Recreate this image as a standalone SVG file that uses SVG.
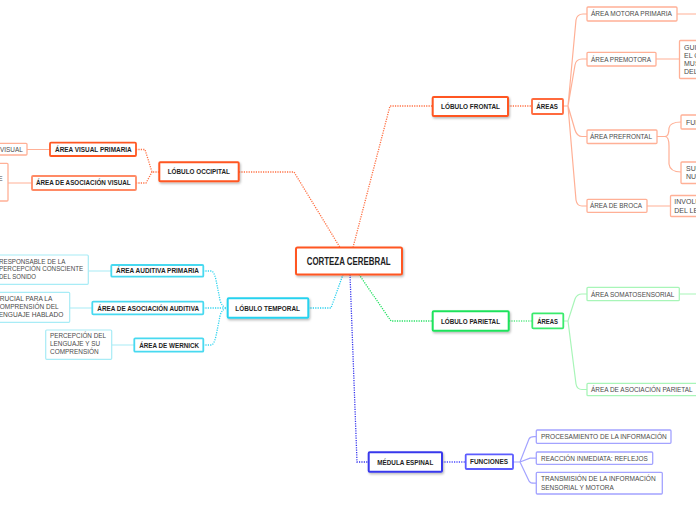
<svg xmlns="http://www.w3.org/2000/svg" width="696" height="520" viewBox="0 0 696 520">
<defs>
<filter id="sh" x="-10%" y="-20%" width="130%" height="160%"><feDropShadow dx="1" dy="1.5" stdDeviation="0.8" flood-color="#000" flood-opacity="0.28"/></filter>
<style>
text{font-family:"Liberation Sans",Arial,sans-serif;font-size:7px;}
.b{font-weight:bold;fill:#1e1e1e;}
.r{fill:#4a4a4a;}
.box{fill:#fff;}
.dot{fill:none;stroke-width:1.3;stroke-dasharray:1.2 1.2;}
.sol{fill:none;stroke-width:1.2;}
.or{stroke:#ff5722;}
.or2{stroke:#ff8a65;}
.or3{stroke:#ffb096;}
.cy{stroke:#27d2ef;}
.cy2{stroke:#48d9f0;}
.cy3{stroke:#a8ecf6;}
.gr{stroke:#1fe35b;}
.gr2{stroke:#3aeb6c;}
.gr3{stroke:#a8f5b8;}
.bl{stroke:#3838ec;}
.bl2{stroke:#5c5cff;}
.bl3{stroke:#a3a3ff;}
</style>
</defs>
<rect width="696" height="520" fill="#fff"/>
<g id="connectors">
<path class="dot" stroke="#ff7043" d="M239,172 L294,172 L340,247.5"/>
<path class="dot" stroke="#ff7043" d="M353,247.5 L390,106 L432,106"/>
<path class="dot" stroke="#2ad0ee" d="M308,308 L331,308 L343,274.5"/>
<path class="dot" stroke="#3535ee" d="M350,274.5 L357,462 L368,462"/>
<path class="dot" stroke="#22e060" d="M359,274.5 L391,321 L432,321"/>
<path class="dot" stroke="#ff7043" d="M508,106 L532,106"/>
<path class="dot" stroke="#5bea85" d="M509,321 L532,321"/>
<path class="dot" stroke="#4a4aff" d="M442,462 L466,462"/>
<path class="dot" stroke="#ff7043" d="M136,149.5 L145,149.5 L152,172 L159,172 M136,183 L146,183 L152,172"/>
<path class="dot" stroke="#30d4ef" d="M203,271 L211,271 Q214,271 216,280 L220,300 Q222,308 228,308 M203,308 L228,308 M203,345 L211,345 Q214,345 216,336 L220,316 Q222,308 228,308"/>
<path class="sol or3" d="M563,106 L568,106 L576,20 Q577,14 583,14 L587,14 M568,106 L575,65 Q576,59 582,59 L587,59 M568,106 L575,130 Q577,136.5 582,136.5 L587,136.5 M568,106 L576,200 Q577,206 582,206 L587,206"/>
<path class="sol or3" d="M677,14 L696,14 M656,59 L679,59 M647,206 L670,206"/>
<path class="sol or3" d="M657,136.5 L665,136.5 Q669,136.5 669,128 Q670,122 681,122 M665,136.5 Q669,136.5 669,146 L669,164 Q670,172 681,172"/>
<path class="sol or3" d="M27,149.5 L50,149.5 M8,183 L32,183"/>
<path class="sol cy3" d="M88,271 L111,271 M70,308 L92,308 M112,345 L134,345"/>
<path class="sol gr3" d="M563,321 L568,321 L575,299 Q577,294 582,294 L587,294 M568,321 L576,384 Q577,389.5 582,389.5 L587,389.5 M679,294 L696,294"/>
<path class="sol bl3" d="M513,462 L520,462 L529,439 Q530,436.7 534,436.7 L536,436.7 M520,462 L530,458.2 L536,458.2 M520,462 L529,481 Q530,483.2 534,483.2 L536,483.2"/>
</g>
<g id="corteza"><rect class="box or" x="296" y="247.5" width="106" height="27" rx="1.5" stroke-width="2" filter="url(#sh)"/><text class="b" x="306.7" y="264.5" style="font-size:10px" textLength="84" lengthAdjust="spacingAndGlyphs">CORTEZA CEREBRAL</text></g>
<g id="frontal"><rect class="box or" x="432.7" y="97" width="75.3" height="19" rx="1" stroke-width="2" filter="url(#sh)"/><text class="b" x="441" y="108.8" textLength="59" lengthAdjust="spacingAndGlyphs">LÓBULO FRONTAL</text></g>
<g id="frontal-areas"><rect class="box" x="532" y="99" width="31" height="15" rx="1" stroke="#ff6a3d" stroke-width="1.8"/><text class="b" x="536.3" y="108.8" textLength="21.7" lengthAdjust="spacingAndGlyphs">ÁREAS</text></g>
<g id="motora"><rect class="box or3" x="587" y="7" width="90" height="14" rx="1" stroke-width="1.3"/><text class="r" x="591" y="16.4" textLength="81" lengthAdjust="spacingAndGlyphs">ÁREA MOTORA PRIMARIA</text></g>
<g id="premotora"><rect class="box or3" x="587" y="52.3" width="69" height="13.7" rx="1" stroke-width="1.3"/><text class="r" x="591" y="61.8" textLength="60" lengthAdjust="spacingAndGlyphs">ÁREA PREMOTORA</text></g>
<g id="premotora-desc"><rect class="box or3" x="679.5" y="40.5" width="40" height="38" rx="1" stroke-width="1.3"/><text class="r" x="684" y="49.5">GUI</text><text class="r" x="684" y="57.5">EL C</text><text class="r" x="684" y="65.5">MUS</text><text class="r" x="684" y="73.5">DEL</text></g>
<g id="prefrontal"><rect class="box or3" x="587" y="130" width="70" height="13.5" rx="1" stroke-width="1.3"/><text class="r" x="590" y="139.2" textLength="62" lengthAdjust="spacingAndGlyphs">ÁREA PREFRONTAL</text></g>
<g id="prefrontal-fun"><rect class="box or3" x="681" y="115" width="40" height="14" rx="1" stroke-width="1.3"/><text class="r" x="686" y="124.8">FUN</text></g>
<g id="prefrontal-sup"><rect class="box or3" x="681" y="162" width="40" height="21.5" rx="1" stroke-width="1.3"/><text class="r" x="686" y="170.5">SUP</text><text class="r" x="686" y="178.6">NUE</text></g>
<g id="broca"><rect class="box or3" x="587" y="199.3" width="60" height="13" rx="1" stroke-width="1.3"/><text class="r" x="590" y="208.4" textLength="52" lengthAdjust="spacingAndGlyphs">ÁREA DE BROCA</text></g>
<g id="broca-desc"><rect class="box or3" x="670.5" y="195.5" width="50" height="21" rx="1" stroke-width="1.3"/><text class="r" x="674.3" y="204.3">INVOLU</text><text class="r" x="674.3" y="212.5">DEL LE</text></g>
<g id="occipital"><rect class="box or" x="159.3" y="162.3" width="79.4" height="19" rx="1" stroke-width="2" filter="url(#sh)"/><text class="b" x="167.7" y="174.3" textLength="62.3" lengthAdjust="spacingAndGlyphs">LÓBULO OCCIPITAL</text></g>
<g id="visual-primaria"><rect class="box or" x="50" y="142.7" width="86" height="13.3" rx="1" stroke-width="1.8"/><text class="b" x="55" y="151.9" textLength="76.7" lengthAdjust="spacingAndGlyphs">ÁREA VISUAL PRIMARIA</text></g>
<g id="asoc-visual"><rect class="box or2" x="32" y="176" width="104" height="14" rx="1" stroke-width="1.8"/><text class="b" x="36" y="185.2" textLength="94.7" lengthAdjust="spacingAndGlyphs">ÁREA DE ASOCIACIÓN VISUAL</text></g>
<g id="visual-leaf"><rect class="box or3" x="-20" y="143.3" width="47" height="11.7" rx="1" stroke-width="1.3"/><text class="r" x="0" y="151.5" textLength="22.7" lengthAdjust="spacingAndGlyphs">VISUAL</text></g>
<g id="asoc-visual-leaf"><rect class="box or3" x="-40" y="163.3" width="48" height="37.7" rx="1" stroke-width="1.3"/><text class="r" x="-2" y="180.5">E</text></g>
<g id="temporal"><rect class="box cy" x="227.7" y="298.3" width="80.6" height="19.4" rx="1" stroke-width="2" filter="url(#sh)"/><text class="b" x="235.3" y="310.5" textLength="64.7" lengthAdjust="spacingAndGlyphs">LÓBULO TEMPORAL</text></g>
<g id="auditiva-primaria"><rect class="box cy2" x="111.3" y="265" width="92" height="11.7" rx="1" stroke-width="1.8"/><text class="b" x="116" y="273" textLength="83" lengthAdjust="spacingAndGlyphs">ÁREA AUDITIVA PRIMARIA</text></g>
<g id="asoc-auditiva"><rect class="box cy2" x="92.3" y="301.7" width="111" height="12.6" rx="1" stroke-width="1.8"/><text class="b" x="97.3" y="310.5" textLength="101.7" lengthAdjust="spacingAndGlyphs">ÁREA DE ASOCIACIÓN AUDITIVA</text></g>
<g id="wernick"><rect class="box cy2" x="134.3" y="338.3" width="69" height="13.4" rx="1" stroke-width="1.8"/><text class="b" x="139.3" y="347.5" textLength="59.7" lengthAdjust="spacingAndGlyphs">ÁREA DE WERNICK</text></g>
<g id="auditiva-leaf"><rect class="box cy3" x="-10" y="255" width="98.3" height="29.3" rx="1" stroke-width="1.2"/><text class="r" x="-1" y="263.5" textLength="66.3" lengthAdjust="spacingAndGlyphs">RESPONSABLE DE LA</text><text class="r" x="-1" y="271.3" textLength="84.3" lengthAdjust="spacingAndGlyphs">PERCEPCIÓN CONSCIENTE</text><text class="r" x="-1" y="279" textLength="37" lengthAdjust="spacingAndGlyphs">DEL SONIDO</text></g>
<g id="asoc-auditiva-leaf"><rect class="box cy3" x="-10" y="292.3" width="79.7" height="30" rx="1" stroke-width="1.2"/><text class="r" x="-5" y="301" textLength="57.3" lengthAdjust="spacingAndGlyphs">CRUCIAL PARA LA</text><text class="r" x="-5" y="308.8" textLength="63.7" lengthAdjust="spacingAndGlyphs">COMPRENSIÓN DEL</text><text class="r" x="-5" y="316.7" textLength="68.3" lengthAdjust="spacingAndGlyphs">LENGUAJE HABLADO</text></g>
<g id="wernick-leaf"><rect class="box cy3" x="45.7" y="330" width="66" height="29.3" rx="1" stroke-width="1.2"/><text class="r" x="50" y="338.2" textLength="56" lengthAdjust="spacingAndGlyphs">PERCEPCIÓN DEL</text><text class="r" x="50" y="346.3" textLength="50" lengthAdjust="spacingAndGlyphs">LENGUAJE Y SU</text><text class="r" x="50" y="354.3" textLength="48.7" lengthAdjust="spacingAndGlyphs">COMPRENSIÓN</text></g>
<g id="parietal"><rect class="box gr" x="432.7" y="311.3" width="76" height="19.4" rx="1" stroke-width="2" filter="url(#sh)"/><text class="b" x="441" y="323.5" textLength="59" lengthAdjust="spacingAndGlyphs">LÓBULO PARIETAL</text></g>
<g id="parietal-areas"><rect class="box gr2" x="532.3" y="313.3" width="31" height="15" rx="1" stroke-width="1.8"/><text class="b" x="537.3" y="323.5" textLength="20.7" lengthAdjust="spacingAndGlyphs">ÁREAS</text></g>
<g id="somatosensorial"><rect class="box gr3" x="587" y="287.3" width="92.3" height="13.4" rx="1" stroke-width="1.3"/><text class="r" x="591" y="296.5" textLength="83.3" lengthAdjust="spacingAndGlyphs">ÁREA SOMATOSENSORIAL</text></g>
<g id="asoc-parietal"><rect class="box gr3" x="587" y="383.3" width="110" height="12.4" rx="1" stroke-width="1.3"/><text class="r" x="591" y="392" textLength="101.7" lengthAdjust="spacingAndGlyphs">ÁREA DE ASOCIACIÓN PARIETAL</text></g>
<g id="medula"><rect class="box bl" x="368.7" y="452.3" width="73.3" height="19.4" rx="1" stroke-width="2" filter="url(#sh)"/><text class="b" x="377.3" y="464.5" textLength="56" lengthAdjust="spacingAndGlyphs">MÉDULA ESPINAL</text></g>
<g id="funciones"><rect class="box bl2" x="465.7" y="454.3" width="47.3" height="14.7" rx="1" stroke-width="1.8"/><text class="b" x="470" y="464.3" textLength="38" lengthAdjust="spacingAndGlyphs">FUNCIONES</text></g>
<g id="procesamiento"><rect class="box bl3" x="536.3" y="430" width="134.7" height="13.3" rx="1" stroke-width="1.3"/><text class="r" x="541" y="439" textLength="125.7" lengthAdjust="spacingAndGlyphs">PROCESAMIENTO DE LA INFORMACIÓN</text></g>
<g id="reaccion"><rect class="box bl3" x="536.3" y="452" width="116.4" height="12.3" rx="1" stroke-width="1.3"/><text class="r" x="541" y="460.7" textLength="106.7" lengthAdjust="spacingAndGlyphs">REACCIÓN INMEDIATA: REFLEJOS</text></g>
<g id="transmision"><rect class="box bl3" x="536.3" y="472.3" width="126" height="21.7" rx="1" stroke-width="1.3"/><text class="r" x="541" y="481" textLength="114.7" lengthAdjust="spacingAndGlyphs">TRANSMISIÓN DE LA INFORMACIÓN</text><text class="r" x="541" y="489.7" textLength="72.7" lengthAdjust="spacingAndGlyphs">SENSORIAL Y MOTORA</text></g>
</svg>
